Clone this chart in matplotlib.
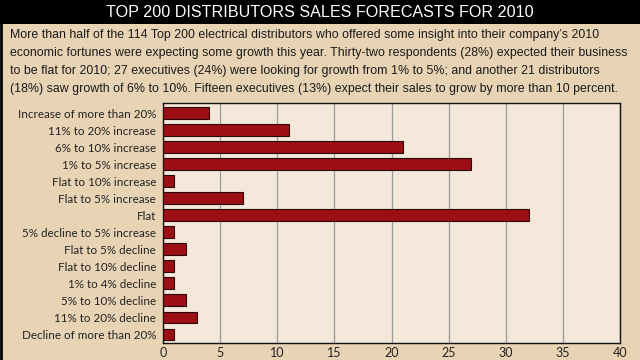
import matplotlib.pyplot as plt

# Data (top to bottom)
categories = ['Increase of more than 20%', '11% to 20% increase', '6% to 10% increase',
              '1% to 5% increase', 'Flat to 10% increase', 'Flat to 5% increase', 'Flat',
              '5% decline to 5% increase', 'Flat to 5% decline', 'Flat to 10% decline',
              '1% to 4% decline', '5% to 10% decline', '11% to 20% decline',
              'Decline of more than 20%']
counts = [4, 11, 21, 27, 1, 7, 32, 1, 2, 1, 1, 2, 3, 1]
x_ticks = [0, 5, 10, 15, 20, 25, 30, 35, 40]

title = 'TOP 200 DISTRIBUTORS SALES FORECASTS FOR 2010'
intro_lines = [
    "More than half of the 114 Top 200 electrical distributors who offered some insight into their company\u2019s 2010",
    "economic fortunes were expecting some growth this year. Thirty-two respondents (28%) expected their business",
    "to be flat for 2010; 27 executives (24%) were looking for growth from 1% to 5%; and another 21 distributors",
    "(18%) saw growth of 6% to 10%. Fifteen executives (13%) expect their sales to grow by more than 10 percent.",
]

fig = plt.figure(figsize=(6.4, 3.6), dpi=100)
fig.patch.set_facecolor('#e8d4b4')

# Black title band
band = fig.add_axes([0, 1 - 24 / 360, 1, 24 / 360])
band.set_facecolor('black')
band.set_xticks([])
band.set_yticks([])
for s in band.spines.values():
    s.set_visible(False)
fig.text(0.5, 1 - 12.5 / 360, title, color='white', fontsize=11.6, ha='center', va='center',
         family='Liberation Sans')

# Black left border line
fig.add_artist(plt.Line2D([0.001, 0.001], [0, 1], color='black', lw=2, transform=fig.transFigure))

# Intro paragraph, one line every 18 px
for i, line in enumerate(intro_lines):
    fig.text(10 / 640, 1 - (35 + 18 * i) / 360, line, fontsize=8.9, ha='left', va='center',
             family='Liberation Sans', color='#1a1a1a')

# Bar chart
ax = fig.add_axes([163 / 640, 1 - 343 / 360, (620 - 163) / 640, (343 - 103) / 360])
ax.set_facecolor('#f3e8da')
y = list(range(len(categories)))
ax.barh(y, counts, height=0.7, color='#9b0e14', edgecolor='#2a0a05', linewidth=0.8, zorder=3)
ax.set_ylim(len(categories) - 0.5, -0.6)
ax.set_xlim(0, 40)
ax.set_xticks(x_ticks)
ax.set_yticks(y)
ax.set_yticklabels(categories, fontsize=8.4, color='#222222', family='Lato')
ax.tick_params(axis='x', labelsize=9, colors='#222222', length=0, pad=3)
ax.tick_params(axis='y', length=0, pad=5)
for lbl in ax.get_xticklabels():
    lbl.set_family('Lato')
ax.grid(axis='x', color='#9a9a9a', linewidth=0.9, zorder=0)
for s in ax.spines.values():
    s.set_color('#111111')
    s.set_linewidth(1.0)

fig.savefig('out.png', dpi=100, facecolor=fig.get_facecolor())
